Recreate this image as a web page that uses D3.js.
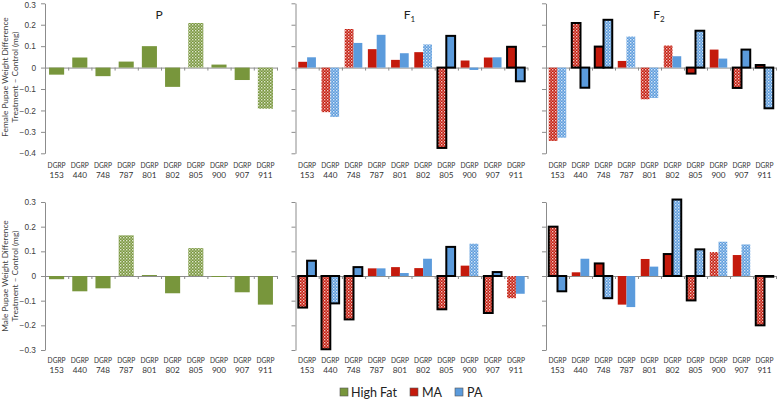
<!DOCTYPE html>
<html><head><meta charset="utf-8">
<script src="https://cdn.jsdelivr.net/npm/d3@7"></script>
<style>body{margin:0;background:#fff}svg{display:block}</style>
</head><body>
<script>
// ---------- DATA ----------
const categories = ["153","440","748","787","801","802","805","900","907","911"];
const groups = ["High Fat","MA","PA"];
const yTicksFemale = [0.3,0.2,0.1,0,-0.1,-0.2,-0.3,-0.4];
const yTicksMale = [0.3,0.2,0.1,0,-0.1,-0.2,-0.3];

// Female
const femaleP      = [-0.033,0.047,-0.040,0.028,0.100,-0.090,0.208,0.014,-0.058,-0.192];
const femalePSig   = [0,0,0,0,0,0,1,0,0,1];
const femaleF1MA   = [0.027,-0.208,0.180,0.086,0.036,0.072,-0.375,0.033,0.047,0.097];
const femaleF1MASig= [0,1,1,0,0,0,1,0,0,0];
const femaleF1MAOut= [0,0,0,0,0,0,1,0,0,1];
const femaleF1PA   = [0.048,-0.230,0.115,0.153,0.067,0.108,0.148,-0.011,0.048,-0.064];
const femaleF1PASig= [0,1,0,0,0,1,0,0,0,0];
const femaleF1PAOut= [0,0,0,0,0,0,1,0,0,1];
const femaleF2MA   = [-0.342,0.208,0.098,0.031,-0.148,0.103,-0.028,0.084,-0.095,0.012];
const femaleF2MASig= [1,1,0,0,1,1,0,0,1,0];
const femaleF2MAOut= [0,1,1,0,0,0,1,0,1,1];
const femaleF2PA   = [-0.327,-0.094,0.223,0.145,-0.142,0.053,0.172,0.042,0.084,-0.190];
const femaleF2PASig= [1,0,1,1,1,0,1,0,0,1];
const femaleF2PAOut= [0,1,1,0,0,0,1,0,1,1];

// Male
const maleP        = [-0.013,-0.062,-0.050,0.165,0.004,-0.070,0.113,-0.004,-0.066,-0.116];
const malePSig     = [0,0,0,1,0,0,1,0,0,0];
const maleF1MA     = [-0.128,-0.297,-0.176,0.031,0.036,0.032,-0.135,0.042,-0.150,-0.090];
const maleF1MASig  = [1,1,1,0,0,0,1,0,1,1];
const maleF1MAOut  = [1,1,1,0,0,0,1,0,1,0];
const maleF1PA     = [0.062,-0.111,0.036,0.031,0.012,0.070,0.118,0.131,0.016,-0.072];
const maleF1PASig  = [0,1,0,0,0,0,0,1,0,0];
const maleF1PAOut  = [1,1,1,0,0,0,1,0,1,0];
const maleF2MA     = [0.200,0.015,0.051,-0.116,0.069,0.089,-0.099,0.097,0.085,-0.200];
const maleF2MASig  = [1,0,0,0,0,0,1,1,0,1];
const maleF2MAOut  = [1,0,1,0,0,1,1,0,0,1];
const maleF2PA     = [-0.062,0.070,-0.090,-0.126,0.038,0.310,0.108,0.139,0.128,-0.003];
const maleF2PASig  = [0,0,1,0,0,1,1,1,1,0];
const maleF2PAOut  = [1,0,1,0,0,1,1,0,0,1];

// ---------- DRAW ----------
const W = 777, H = 402;
const colors = {"High Fat":"#78963c","MA":"#c41a0c","PA":"#5b9bdc"};
const svg = d3.select("body").append("svg").attr("width",W).attr("height",H);
const defs = svg.append("defs");
Object.entries(colors).forEach(([k,c],i)=>{
  const p = defs.append("pattern").attr("id","pat"+i).attr("patternUnits","userSpaceOnUse")
    .attr("width",3).attr("height",3);
  p.append("rect").attr("width",3).attr("height",3).attr("fill",c);
  p.append("rect").attr("x",0).attr("y",0).attr("width",1.4).attr("height",1.4).attr("fill","#fff").attr("opacity",0.75);
  p.append("rect").attr("x",1.5).attr("y",1.5).attr("width",1.4).attr("height",1.4).attr("fill","#fff").attr("opacity",0.45);
});
const patId = g => "url(#pat"+groups.indexOf(g)+")";

const rows = [
  {domain:[-0.4,0.3], range:[153.3,3.3], ticks:yTicksFemale, catY:168,
   title:["Female Pupae Weight Difference","Treatment \u2013 Control (mg)"], titleY:77,
   panels:[
     {name:"P", series:[{g:"High Fat",v:femaleP,s:femalePSig}]},
     {name:"F", sub:"1", series:[{g:"MA",v:femaleF1MA,s:femaleF1MASig,o:femaleF1MAOut},{g:"PA",v:femaleF1PA,s:femaleF1PASig,o:femaleF1PAOut}]},
     {name:"F", sub:"2", series:[{g:"MA",v:femaleF2MA,s:femaleF2MASig,o:femaleF2MAOut},{g:"PA",v:femaleF2PA,s:femaleF2PASig,o:femaleF2PAOut}]}
   ]},
  {domain:[-0.3,0.3], range:[350,202], ticks:yTicksMale, catY:363,
   title:["Male Pupae Weight Difference","Treatment \u2013 Control (mg)"], titleY:276,
   panels:[
     {series:[{g:"High Fat",v:maleP,s:malePSig}]},
     {series:[{g:"MA",v:maleF1MA,s:maleF1MASig,o:maleF1MAOut},{g:"PA",v:maleF1PA,s:maleF1PASig,o:maleF1PAOut}]},
     {series:[{g:"MA",v:maleF2MA,s:maleF2MASig,o:maleF2MAOut},{g:"PA",v:maleF2PA,s:maleF2PASig,o:maleF2PAOut}]}
   ]}
];
const colRanges = [[45,277],[295.5,527.5],[546,776]];
const axisColor = "#8c8c8c";
const fmt = d => Math.abs(d)<1e-9 ? "0" : d3.format(".1f")(d);

rows.forEach((row,ri)=>{
  const y = d3.scaleLinear().domain(row.domain).range(row.range);
  // y title
  row.title.forEach((t,i)=>{
    svg.append("text").attr("transform",`translate(${5+i*10},${row.titleY}) rotate(-90)`)
      .attr("text-anchor","middle").attr("dominant-baseline","central")
      .attr("font-family","Lato, 'Liberation Sans', sans-serif").attr("font-size",8.3)
      .attr("fill","#404040").text(t);
  });
  row.panels.forEach((pn,ci)=>{
    const xr = colRanges[ci];
    const x = d3.scaleBand().domain(categories).range(xr);
    const xl = d3.scaleLinear().domain([0,categories.length]).range(xr);
    const bw = x.bandwidth();
    const g = svg.append("g");
    // y axis
    const ya = d3.axisLeft(y).tickValues(row.ticks).tickSize(4).tickSizeOuter(0)
      .tickFormat(ci===0 ? fmt : "");
    const yg = g.append("g").attr("transform",`translate(${xr[0]},0)`).call(ya);
    yg.selectAll("path,line").attr("stroke",axisColor);
    yg.selectAll("text").attr("font-family","'Liberation Sans', Arial, sans-serif")
      .attr("font-size",8.3).attr("fill","#404040").attr("dx",-2);
    if(ri===0) yg.selectAll("text").filter(d=>d===0.3).attr("dy","0.55em");
    // x axis at zero
    const xa = d3.axisBottom(xl).tickValues(d3.range(0,categories.length+1)).tickSize(3).tickSizeOuter(0).tickFormat("");
    const xg = g.append("g").attr("transform",`translate(0,${y(0)})`).call(xa);
    xg.selectAll("path,line").attr("stroke",axisColor);
    // bars
    const n = pn.series.length;
    const total = n===1 ? 0.65 : 0.76;
    const each = bw*total/n;
    const off = bw*(1-total)/2;
    pn.series.forEach((s,si)=>{
      g.selectAll(null).data(categories).enter().append("rect")
        .attr("x",(c)=>x(c)+off+si*each)
        .attr("width",each)
        .attr("y",(c,i)=>y(Math.max(0,s.v[i])))
        .attr("height",(c,i)=>Math.abs(y(s.v[i])-y(0)))
        .attr("fill",(c,i)=> s.s[i] ? patId(s.g) : colors[s.g])
        .attr("stroke",(c,i)=> s.o && s.o[i] ? "#000" : "none")
        .attr("stroke-width",2);
    });
    // category labels
    categories.forEach(c=>{
      const cx = x(c)+bw/2;
      g.append("text").attr("x",cx).attr("y",row.catY)
        .attr("text-anchor","middle").attr("font-family","Lato, 'Liberation Sans', sans-serif")
        .attr("font-size",7.5).attr("fill","#333")
        .attr("textLength",18).attr("lengthAdjust","spacingAndGlyphs").text("DGRP");
      g.append("text").attr("x",cx).attr("y",row.catY+10)
        .attr("text-anchor","middle").attr("font-family","Lato, 'Liberation Sans', sans-serif")
        .attr("font-size",8.2).attr("fill","#333").text(c);
    });
    // panel title
    if(pn.name){
      const t = g.append("text").attr("x",(xr[0]+xr[1])/2-2).attr("y",19)
        .attr("text-anchor","middle").attr("font-family","Lato, 'Liberation Sans', sans-serif")
        .attr("font-size",12).attr("fill","#222");
      t.append("tspan").text(pn.name);
      if(pn.sub) t.append("tspan").attr("font-size",8).attr("dy",3).text(pn.sub);
    }
  });
});

// legend
const legX = [340,410,455];
const legTextX = [351,422,467];
groups.forEach((gname,i)=>{
  svg.append("rect").attr("x",legX[i]).attr("y",388).attr("width",8).attr("height",8)
    .attr("fill",colors[gname]).attr("stroke","#555").attr("stroke-width",0.6);
  svg.append("text").attr("x",legTextX[i]).attr("y",397)
    .attr("font-family","Lato, 'Liberation Sans', sans-serif").attr("font-size",12.5)
    .attr("fill","#222").text(gname);
});
</script>
</body></html>
